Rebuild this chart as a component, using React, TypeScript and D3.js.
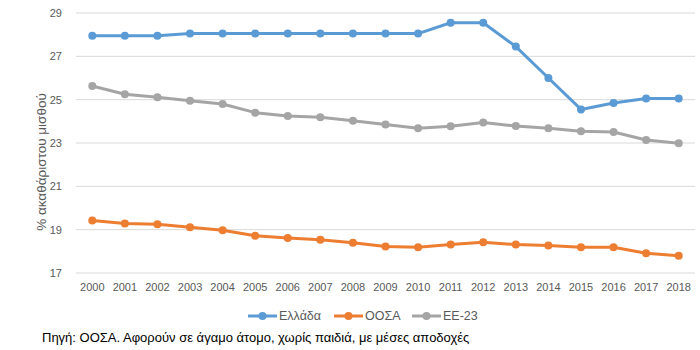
import { scaleBand, scaleLinear, line } from "d3";

const years = [
  "2000", "2001", "2002", "2003", "2004", "2005", "2006", "2007", "2008", "2009",
  "2010", "2011", "2012", "2013", "2014", "2015", "2016", "2017", "2018",
];

const greece = [
  27.95, 27.95, 27.95, 28.05, 28.05, 28.05, 28.05, 28.05, 28.05, 28.05,
  28.05, 28.55, 28.55, 27.45, 26.0, 24.55, 24.85, 25.05, 25.05,
];

const oecd = [
  19.42, 19.29, 19.25, 19.11, 18.97, 18.72, 18.62, 18.54, 18.4, 18.22,
  18.19, 18.31, 18.42, 18.31, 18.27, 18.19, 18.19, 17.91, 17.8,
];

const eu23 = [
  25.63, 25.25, 25.11, 24.95, 24.8, 24.4, 24.25, 24.19, 24.03, 23.85,
  23.68, 23.77, 23.95, 23.78, 23.68, 23.54, 23.51, 23.14, 22.99,
];

const yTicks = [17, 19, 21, 23, 25, 27, 29];

const series = [
  { name: "Ελλάδα", values: greece, color: "#5B9BD5", legendX: 248 },
  { name: "ΟΟΣΑ", values: oecd, color: "#ED7D31", legendX: 334 },
  { name: "ΕΕ-23", values: eu23, color: "#A5A5A5", legendX: 412 },
];

const FONT = "'Liberation Sans', Arial, sans-serif";

export default function App() {
  const width = 700;
  const height = 350;
  const margin = { top: 13, right: 5, bottom: 77, left: 76 };
  const innerW = width - margin.left - margin.right;
  const innerH = height - margin.top - margin.bottom;

  const x = scaleBand<string>().domain(years).range([0, innerW]);
  const y = scaleLinear().domain([17, 29]).range([innerH, 0]);
  const cx = (i: number) => (x(years[i]) ?? 0) + x.bandwidth() / 2;

  const path = line<number>()
    .x((_, i) => cx(i))
    .y((d) => y(d));

  // draw EU first, Greece last so it sits on top
  const drawOrder = [series[2], series[1], series[0]];

  return (
    <div style={{ position: "fixed", left: 0, top: 0, width, height, background: "#fff" }}>
      <svg width={width} height={height} style={{ fontFamily: FONT }}>
        <g transform={`translate(${margin.left},${margin.top})`}>
          {yTicks.map((t) => (
            <g key={t}>
              <line x1={0} x2={innerW} y1={y(t)} y2={y(t)} stroke="#D9D9D9" strokeWidth={1} />
              <text
                x={-14}
                y={y(t)}
                dy="0.35em"
                textAnchor="end"
                fontSize={11}
                fill="#595959"
              >
                {t}
              </text>
            </g>
          ))}
          {years.map((yr, i) => (
            <text
              key={yr}
              x={cx(i)}
              y={innerH + 18}
              textAnchor="middle"
              fontSize={11}
              fill="#595959"
            >
              {yr}
            </text>
          ))}
          {drawOrder.map((s) => (
            <g key={s.name}>
              <path
                d={path(s.values) ?? ""}
                fill="none"
                stroke={s.color}
                strokeWidth={3}
                strokeLinejoin="round"
              />
              {s.values.map((v, i) => (
                <circle key={i} cx={cx(i)} cy={y(v)} r={4} fill={s.color} />
              ))}
            </g>
          ))}
        </g>
        <text
          transform={`translate(41,162) rotate(-90)`}
          textAnchor="middle"
          dy="0.35em"
          fontSize={13.5}
          fill="#595959"
        >
          % ακαθάριστου μισθού
        </text>
        {series.map((s) => (
          <g key={s.name} transform={`translate(${s.legendX},316)`}>
            <line x1={0} x2={29} y1={0} y2={0} stroke={s.color} strokeWidth={3} />
            <circle cx={14.5} cy={0} r={4} fill={s.color} />
            <text x={31} y={0} dy="0.35em" fontSize={12.5} fill="#595959">
              {s.name}
            </text>
          </g>
        ))}
        <text x={42} y={337} dy="0.35em" fontSize={13} fill="#000">
          Πηγή: ΟΟΣΑ. Αφορούν σε άγαμο άτομο, χωρίς παιδιά, με μέσες αποδοχές
        </text>
      </svg>
    </div>
  );
}
